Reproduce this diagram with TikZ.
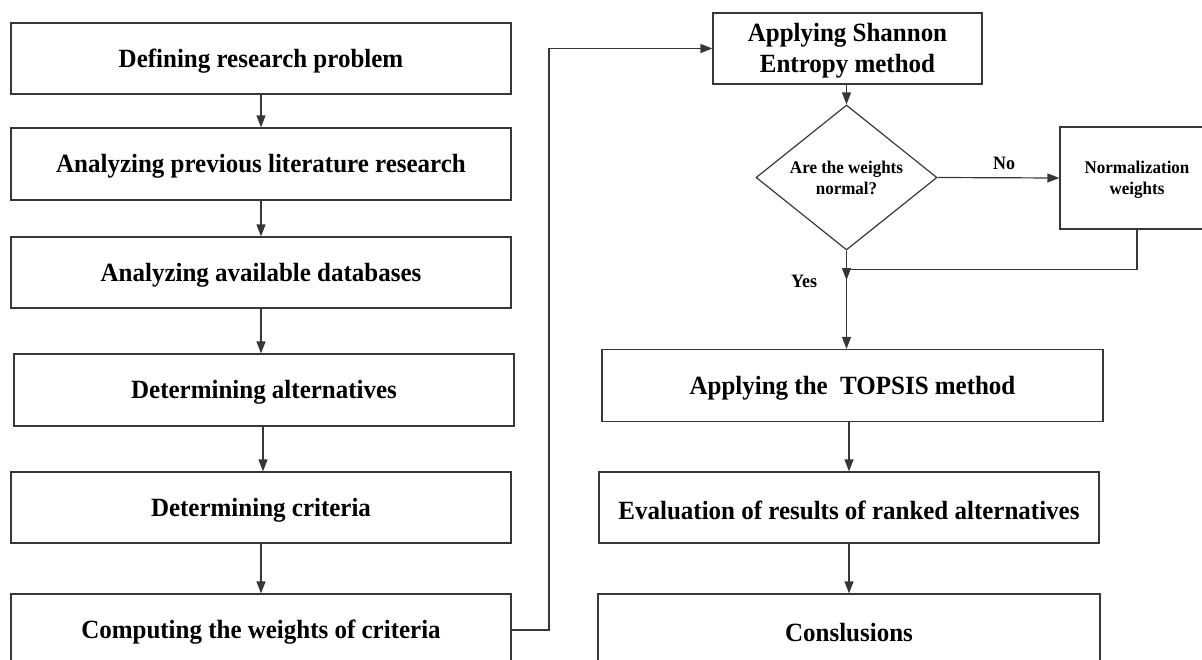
\documentclass[tikz,border=0pt]{standalone}
\usepackage{fontspec}
\setmainfont{Liberation Serif}[FakeStretch=0.95]
\usetikzlibrary{shapes.geometric,arrows.meta,calc}
\newcommand{\dn}[2][2.5pt]{\raisebox{-#1}[\height][\depth]{#2}}
\begin{document}
\begin{tikzpicture}[x=1pt,y=-1pt,
  every node/.style={font=\bfseries},
  stepbox/.style={draw=linegray,line width=1.2pt,rectangle,minimum width=500pt,minimum height=71pt,inner sep=0pt,font=\fontsize{26.3}{31}\selectfont\bfseries,align=center},
  smallbox/.style={draw=linegray,line width=1.2pt,rectangle,inner sep=0pt,font=\fontsize{17.9}{21}\selectfont\bfseries,align=center},
  decision/.style={draw=linegray,line width=1.2pt,diamond,aspect=1.25,minimum width=181pt,minimum height=145pt,inner sep=1pt,font=\fontsize{17.9}{21}\selectfont\bfseries,align=center},
  lbl/.style={font=\fontsize{18.9}{21}\selectfont\bfseries,inner sep=0pt},
  conn/.style={draw=linegray,line width=1.2pt},
  arr/.style={conn,-{Triangle[length=12pt,width=9pt]}}]
\definecolor{linegray}{RGB}{55,55,55}
\useasboundingbox (0,0) rectangle (1202,659);
\clip (0,0) rectangle (1202,659);
% left column
\node[stepbox] (b1) at (261,58.5) {\dn{Defining research problem}};
\node[stepbox,minimum height=72pt] (b2) at (261,164) {\dn{Analyzing previous literature research}};
\node[stepbox] (b3) at (261,272.5) {\dn{Analyzing available databases}};
\node[stepbox,minimum height=72pt] (b4) at (264,390) {\dn{Determining alternatives}};
\node[stepbox] (b5) at (261,507.5) {\dn{Determining criteria}};
\node[stepbox,minimum height=72pt] (b6) at (261,630) {\dn{Computing the weights of criteria}};
% right column
\node[stepbox,minimum width=269pt] (sh) at (847.5,48.5) {\dn{\begin{tabular}{@{}c@{}}Applying Shannon\\Entropy method\end{tabular}}};
\node[decision] (dm) at (846.5,177.5) {Are the weights\\normal?};
\node[smallbox,minimum width=154pt,minimum height=102pt] (nw) at (1137,178) {\dn[1.5pt]{\begin{tabular}{@{}c@{}}Normalization\\weights\end{tabular}}};
\node[stepbox,minimum width=501pt,minimum height=72pt] (tp) at (852.5,385.5) {\dn{Applying the\ \ TOPSIS method}};
\node[stepbox] (ev) at (849,507.5) {\dn{Evaluation of results of ranked alternatives}};
\node[stepbox,minimum width=502pt,minimum height=72pt] (cn) at (849,630) {\dn{Conslusions}};
% labels
\node[lbl] (no) at (1004,163) {No};
\node[lbl] (yes) at (804,281) {Yes};
% connectors
\draw[arr] (b1.south) -- (b1.south |- b2.north);
\draw[arr] (b2.south) -- (b2.south |- b3.north);
\draw[arr] (b3.south) -- (b3.south |- b4.north);
\draw[arr] (b4.south -| b5.north) ++(2,0) coordinate (s45) -- (s45 |- b5.north);
\draw[arr] (b5.south) -- (b5.south |- b6.north);
\coordinate (cx) at (549,630);
\draw[arr] (b6.east) -- (cx) |- (sh.west);
\draw[arr] (sh.south -| dm.north) -- (dm.north);
\draw[arr] (dm.east) -- (nw.west);
\coordinate (jn) at ($(dm.south)+(0,18.5)$);
\draw[arr] (nw.south) |- (jn) -- ++(0,11);
\draw[arr] (dm.south) -- (dm.south |- tp.north);
\draw[arr] (tp.south -| ev.north) -- (ev.north);
\draw[arr] (ev.south) -- (cn.north);
\end{tikzpicture}
\end{document}
